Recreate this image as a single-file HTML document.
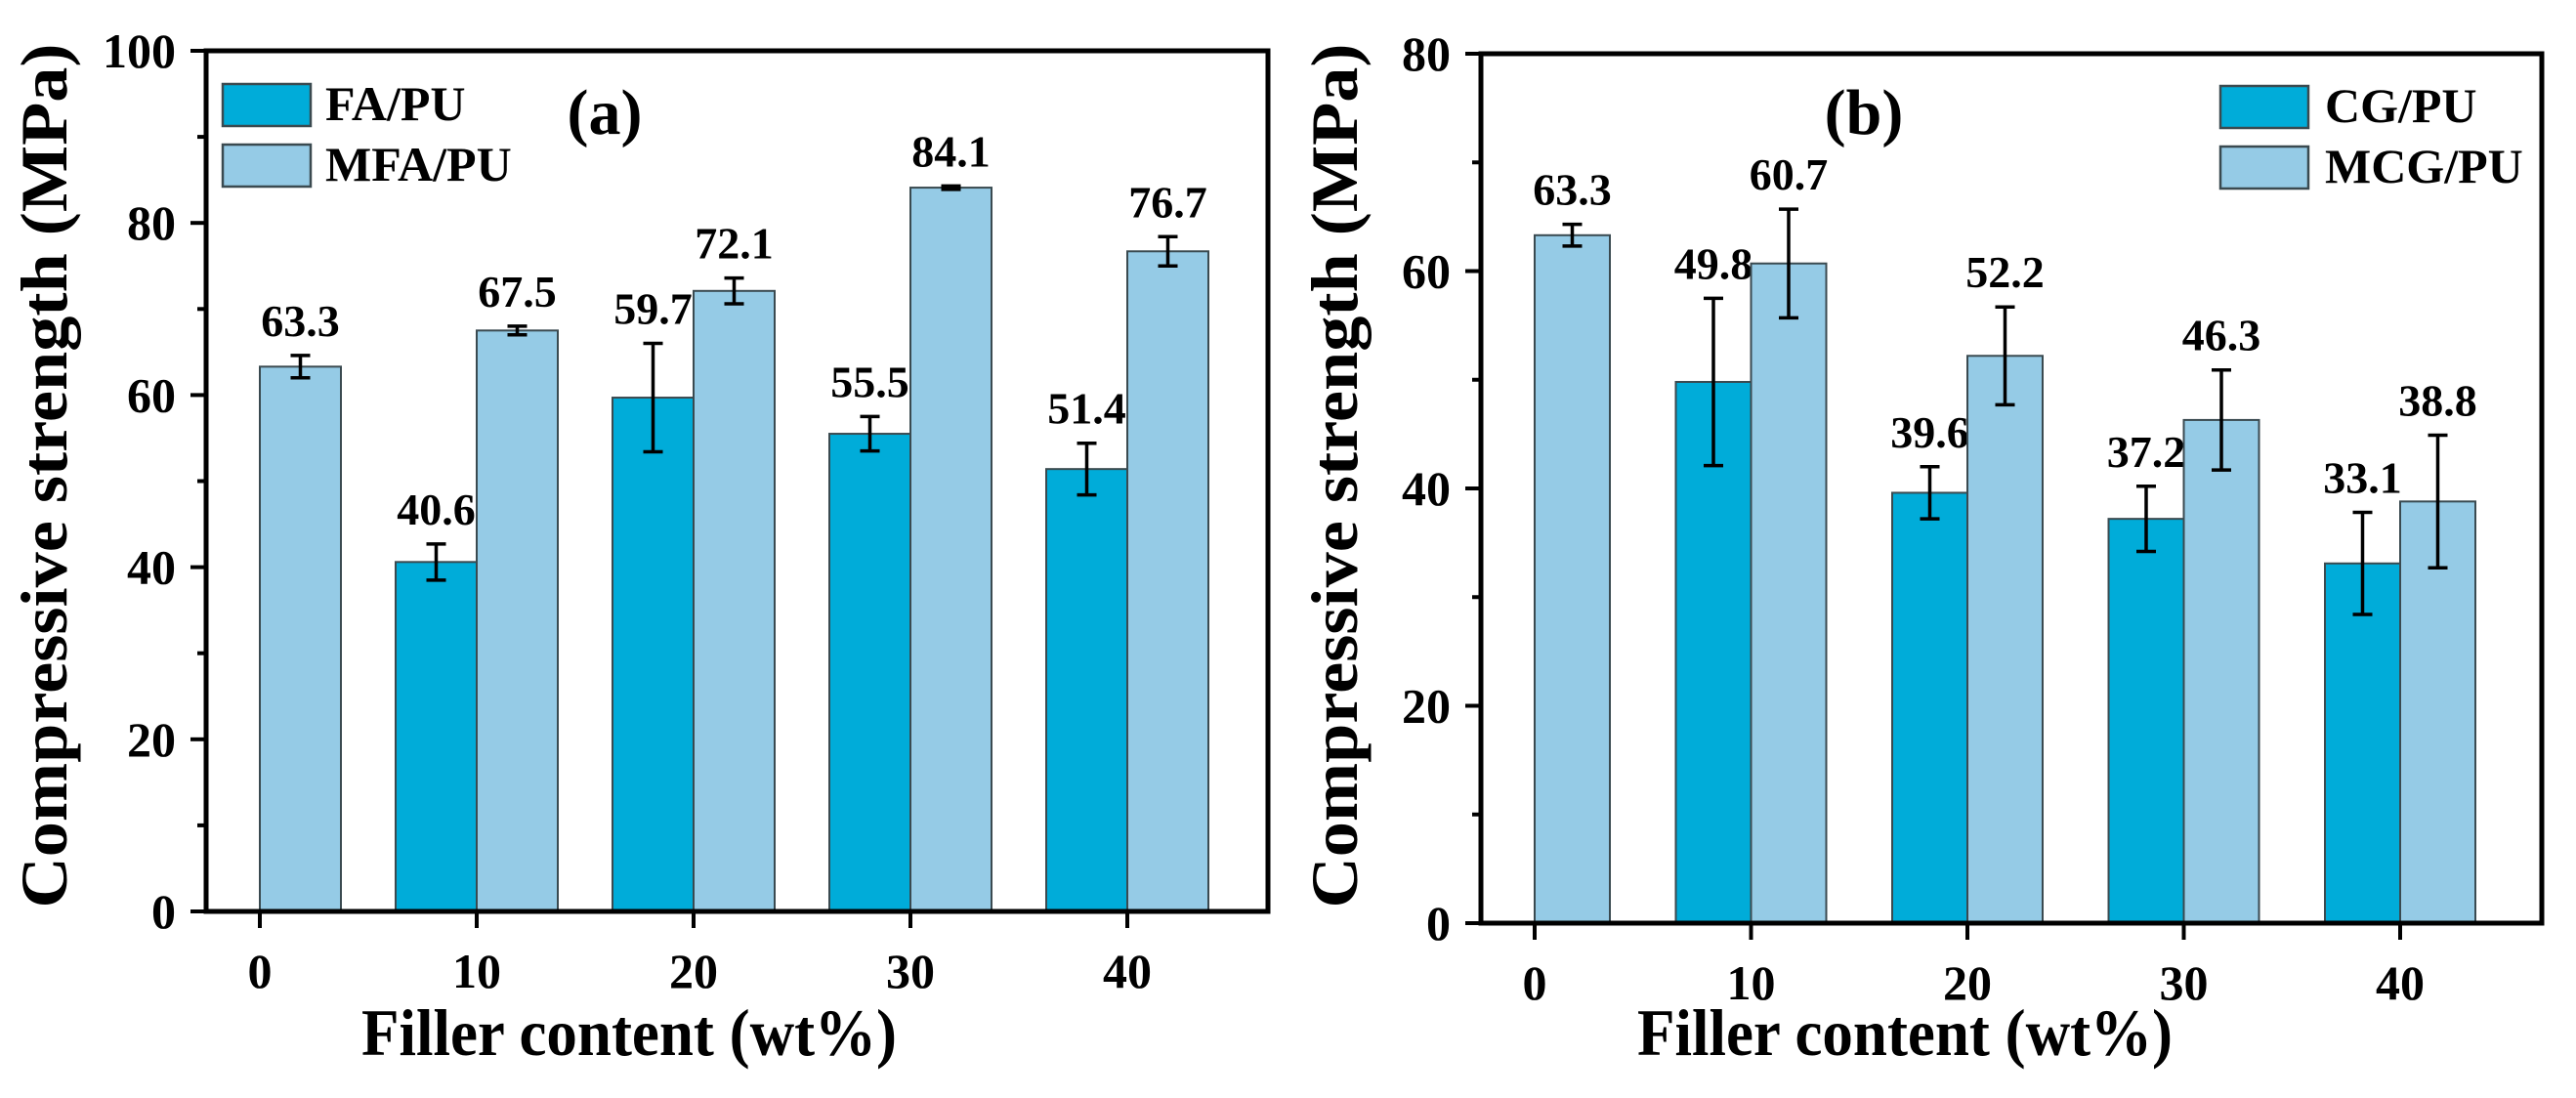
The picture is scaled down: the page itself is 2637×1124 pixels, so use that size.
<!DOCTYPE html>
<html><head><meta charset="utf-8"><style>
html,body{margin:0;padding:0;background:#fff;}
svg{display:block;}
svg text{font-family:"Liberation Serif","Times New Roman",serif;font-weight:bold;}
</style></head><body>
<svg id="chart" width="2637" height="1124" viewBox="0 0 2637 1124" xmlns="http://www.w3.org/2000/svg"></svg>
<script>
const categories = [0, 10, 20, 30, 40];
const faValues = [null, 40.6, 59.7, 55.5, 51.4];
const faErrors = [null, 2.1, 6.3, 2.0, 3.0];
const mfaValues = [63.3, 67.5, 72.1, 84.1, 76.7];
const mfaErrors = [1.3, 0.5, 1.5, 0.2, 1.7];
const cgValues = [null, 49.8, 39.6, 37.2, 33.1];
const cgErrors = [null, 7.7, 2.4, 3.0, 4.7];
const mcgValues = [63.3, 60.7, 52.2, 46.3, 38.8];
const mcgErrors = [1.0, 5.0, 4.5, 4.6, 6.1];
const yTicksA = [0, 20, 40, 60, 80, 100];
const yTicksB = [0, 20, 40, 60, 80];
const seriesNamesA = ["FA/PU", "MFA/PU"];
const seriesNamesB = ["CG/PU", "MCG/PU"];

const NS = "http://www.w3.org/2000/svg";
const svg = document.getElementById("chart");
const DARK = "#00acd9", LIGHT = "#95cbe6";
const FF = "'Liberation Serif','Times New Roman',serif";

function mk(tag, attrs, parent, text) {
  const e = document.createElementNS(NS, tag);
  for (const k in attrs) e.setAttribute(k, attrs[k]);
  if (tag === "text") { e.setAttribute("font-family", FF); e.setAttribute("font-weight", "bold"); }
  if (text !== undefined) e.textContent = text;
  (parent || svg).appendChild(e);
  return e;
}

function panel(p) {
  const g = mk("g", {});
  
  
  const ymax = p.yTicks[p.yTicks.length - 1];
  const ys = v => p.bottom - (v / ymax) * (p.bottom - p.top);
  const xs = c => p.x0 + (c / 10) * p.step;

  for (let i = 0; i < categories.length; i++) {
    const cx = xs(categories[i]);
    const sets = [[p.v1, p.e1, cx - p.bw, DARK, 'dark'], [p.v2, p.e2, cx, LIGHT, 'light']];
    for (const [vals, errs, bx, col, nm] of sets) {
      const v = vals[i];
      if (v === null) continue;
      const r = mk("rect", {x: bx, y: ys(v), width: p.bw, height: p.bottom - ys(v), fill: col, stroke: "#3a4a50", "stroke-width": 2}, g);
      
      
      const mx = bx + p.bw / 2, e = errs[i];
      const eb = mk("path", {d: `M${mx} ${ys(v + e)}V${ys(v - e)}M${mx - 10} ${ys(v + e)}H${mx + 10}M${mx - 10} ${ys(v - e)}H${mx + 10}`, stroke: "#000", "stroke-width": 3.5, fill: "none"}, g);
      
      
      const t = mk("text", {x: mx, y: ys(v + e) - 20, "text-anchor": "middle", "font-size": 46}, g, v.toFixed(1));
      
      
    }
  }
  const fr = mk("rect", {x: p.left, y: p.top, width: p.right - p.left, height: p.bottom - p.top, fill: "none", stroke: "#000", "stroke-width": 5}, g);
  
  
  const minorStep = p.yTicks[1] / 2;
  for (let v = 0; v <= ymax + 0.001; v += minorStep) {
    const major = p.yTicks.includes(v);
    mk("line", {x1: p.left, x2: p.left - (major ? 16 : 9), y1: ys(v), y2: ys(v), stroke: "#000", "stroke-width": 4}, g);
  }
  for (const v of p.yTicks) {
    const t = mk("text", {x: p.left - 31, y: ys(v) + 17, "text-anchor": "end", "font-size": 50}, g, v);
    
    
  }
  for (const c of categories) {
    mk("line", {x1: xs(c), x2: xs(c), y1: p.bottom, y2: p.bottom + 17, stroke: "#000", "stroke-width": 4}, g);
    const t = mk("text", {x: xs(c), y: p.bottom + 78, "text-anchor": "middle", "font-size": 50}, g, c);
    
    
  }
  const xt = mk("text", {x: p.xtCx, y: 1080, "text-anchor": "middle", "font-size": 68, textLength: 548, lengthAdjust: "spacingAndGlyphs"}, g, "Filler content (wt%)");
  
  
  const yt = mk("text", {x: 0, y: 0, "text-anchor": "middle", "font-size": 68, textLength: 885, lengthAdjust: "spacingAndGlyphs", transform: `translate(${p.ytX},487) rotate(-90)`}, g, "Compressive strength (MPa)");
  
  
  const pl = mk("text", {x: p.plX, y: 137, "text-anchor": "middle", "font-size": 66}, g, p.plabel);
  
  
  for (let k = 0; k < 2; k++) {
    const lg = mk("g", {}, g);
    
    
    mk("rect", {x: p.lgX, y: p.lgY + k * 62, width: 90, height: 43, fill: k ? LIGHT : DARK, stroke: "#3a4a50", "stroke-width": 2.5}, lg);
    mk("text", {x: p.lgTx, y: p.lgY + 37 + k * 62, "font-size": 50}, lg, p.names[k]);
  }
}

panel({id: "panel-a", left: 211, right: 1298, top: 52, bottom: 933, x0: 266, step: 222, bw: 83,
  yTicks: yTicksA, v1: faValues, e1: faErrors, v2: mfaValues, e2: mfaErrors,
  xtCx: 644, ytX: 68, plX: 619, plabel: "(a)", lgX: 228, lgY: 86, lgTx: 333, names: seriesNamesA});
panel({id: "panel-b", left: 1516, right: 2602, top: 55, bottom: 945, x0: 1571, step: 221.5, bw: 77,
  yTicks: yTicksB, v1: cgValues, e1: cgErrors, v2: mcgValues, e2: mcgErrors,
  xtCx: 1950, ytX: 1389, plX: 1908, plabel: "(b)", lgX: 2273, lgY: 88, lgTx: 2380, names: seriesNamesB});
</script>
</body></html>
